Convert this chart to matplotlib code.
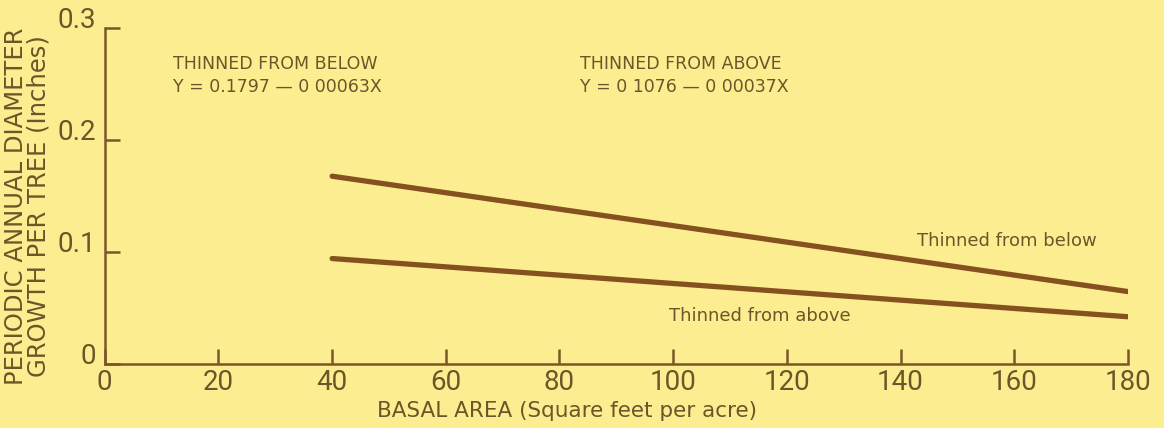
import matplotlib
matplotlib.use("Agg")
import matplotlib.pyplot as plt

# values
basal_area = [40, 180]
below_growth = [0.1675, 0.0645]
above_growth = [0.094, 0.042]
x_ticks = [0, 20, 40, 60, 80, 100, 120, 140, 160, 180]
y_ticks = [0, 0.1, 0.2, 0.3]
y_tick_labels = ["0", "0.1", "0.2", "0.3"]

BG = "#fcee90"
LINE = "#84511f"
AXIS = "#7a5628"
TEXT = "#6b5629"

fig = plt.figure(figsize=(11.64, 4.28), dpi=100, facecolor=BG)
ax = fig.add_axes([0.090, 0.150, 0.879, 0.785], facecolor=BG)

ax.plot(basal_area, below_growth, color=LINE, lw=3.8, solid_capstyle="round")
ax.plot(basal_area, above_growth, color=LINE, lw=3.8, solid_capstyle="round")

ax.set_xlim(0, 180)
ax.set_ylim(0, 0.3)
for s in ["top", "right"]:
    ax.spines[s].set_visible(False)
for s in ["left", "bottom"]:
    ax.spines[s].set_color(AXIS)
    ax.spines[s].set_linewidth(1.8)

tickfont = dict(family="Roboto", fontsize=20, color=TEXT)
ax.set_xticks(x_ticks)
ax.set_xticklabels([str(v) for v in x_ticks], **tickfont)
ax.set_yticks(y_ticks)
ax.set_yticklabels(y_tick_labels, va="baseline", **tickfont)
ax.tick_params(axis="both", direction="in", length=11, width=1.8, color=AXIS)
ax.tick_params(axis="x", pad=4)
ax.tick_params(axis="y", pad=6)

ax.set_xlabel("BASAL AREA (Square feet per acre)", fontsize=15.5, color=TEXT)
ax.xaxis.set_label_coords(0.452, -0.112)
ax.set_ylabel("PERIODIC ANNUAL DIAMETER\nGROWTH PER TREE (Inches)", fontsize=17.5,
              color=TEXT, linespacing=0.92)
ax.yaxis.set_label_coords(-0.053, 0.47)

small = dict(fontsize=12.5, color=TEXT, va="center", linespacing=1.35)
ax.text(12, 0.2575, "THINNED FROM BELOW\nY = 0.1797 \u2014 0 00063X", **small)
ax.text(83.6, 0.2575, "THINNED FROM ABOVE\nY = 0 1076 \u2014 0 00037X", **small)
ax.text(158.7, 0.110, "Thinned from below", fontsize=13, color=TEXT, ha="center", va="center")
ax.text(115.3, 0.043, "Thinned from above", fontsize=13, color=TEXT, ha="center", va="center")

fig.savefig("out.png", dpi=100, facecolor=BG)
